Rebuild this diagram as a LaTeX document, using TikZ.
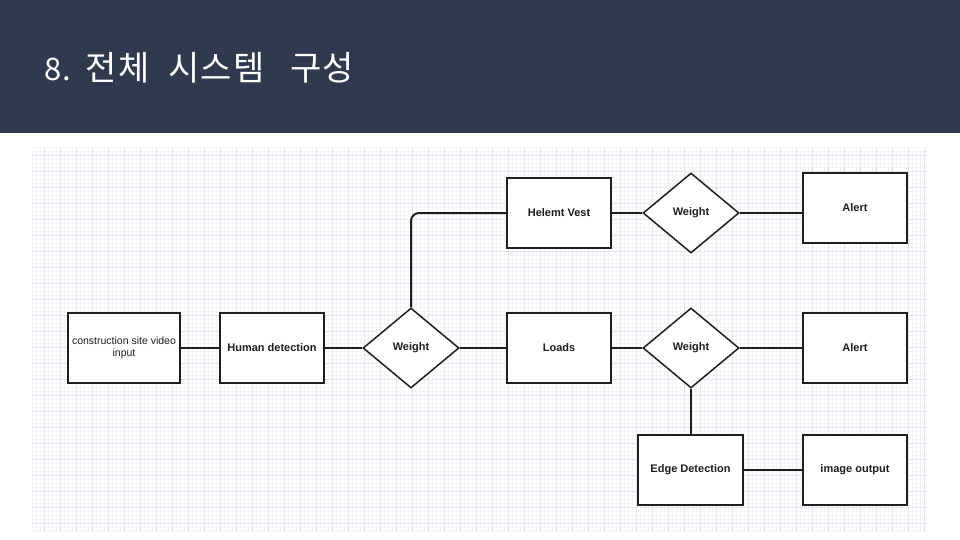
\documentclass[tikz,border=0pt]{standalone}
\usepackage{fontspec}
\setmainfont{Liberation Sans}
\newfontfamily\krfont[LetterSpace=3]{Noto Sans CJK KR}
\usetikzlibrary{shapes.geometric}
\definecolor{banner}{RGB}{48,57,78}
\definecolor{gridminor}{RGB}{244,244,249}
\definecolor{gridmajor}{RGB}{228,228,238}
\definecolor{ink}{RGB}{30,30,30}
\tikzset{
  box/.style={draw=ink, line width=1.5pt, fill=white, minimum width=104pt, minimum height=70pt, inner sep=2pt, font=\fontsize{11}{12}\selectfont\bfseries, text=ink, align=center},
  dia/.style={draw=ink, line width=1.5pt, fill=white, diamond, aspect=1.2, inner sep=0pt, minimum width=96pt, minimum height=80pt, font=\fontsize{11}{12}\selectfont\bfseries, text=ink},
  link/.style={draw=ink, line width=2pt},
  title/.style={text=white, font=\krfont\fontsize{31}{36}\selectfont, anchor=base west, inner sep=0pt}
}
\newcommand{\kbig}{\fontsize{34}{36}\selectfont}
\begin{document}
\begin{tikzpicture}[x=1pt,y=-1pt]
\useasboundingbox (0,0) rectangle (960,540);
\fill[white] (0,0) rectangle (960,540);
\fill[banner] (0,0) rectangle (960,133);
\node[title] (ttl) at (44,81) {8.\hspace{15pt}{\kbig 전체\hspace{19pt}시스템\hspace{26pt}구성}};
% grid
\begin{scope}
\clip (32,148) rectangle (927,532);
\foreach \x in {32.5,36.5,...,928} \draw[gridminor, line width=0.6pt] (\x,148) -- (\x,532);
\foreach \y in {147.7,151.7,...,533} \draw[gridminor, line width=0.6pt] (32,\y) -- (927,\y);
\foreach \x in {28.5,44.5,...,928} \draw[gridmajor, line width=0.8pt] (\x,148) -- (\x,532);
\foreach \y in {155.7,171.7,...,533} \draw[gridmajor, line width=0.8pt] (32,\y) -- (927,\y);
\end{scope}
% nodes
\node[box, minimum width=112pt, font=\fontsize{10.5}{11.5}\selectfont] (vid) at (124,348) {construction site video\\input};
\node[box] (hum) at (272,348) {Human detection};
\node[dia] (w1) at (411,348) {Weight};
\node[box] (hv) at (559,213) {Helemt Vest};
\node[dia] (w2) at (691,213) {Weight};
\node[box] (al1) at (855,208) {Alert};
\node[box] (ld) at (559,348) {Loads};
\node[dia] (w3) at (691,348) {Weight};
\node[box] (al2) at (855,348) {Alert};
\node[box, minimum width=105pt] (ed) at (690.5,470) {Edge Detection};
\node[box] (io) at (855,470) {image output};
% links
\draw[link] (vid) -- (hum);
\draw[link] (hum) -- (w1);
\draw[link, rounded corners=8pt] (w1.north) |- (hv.west);
\draw[link] (w1) -- (ld);
\draw[link] (hv) -- (w2);
\draw[link] (w2.east) -- (w2.east -| al1.west);
\draw[link] (ld) -- (w3);
\draw[link] (w3) -- (al2);
\draw[link] (w3.south) -- (w3.south |- ed.north);
\draw[link] (ed) -- (io);
\end{tikzpicture}
\end{document}
